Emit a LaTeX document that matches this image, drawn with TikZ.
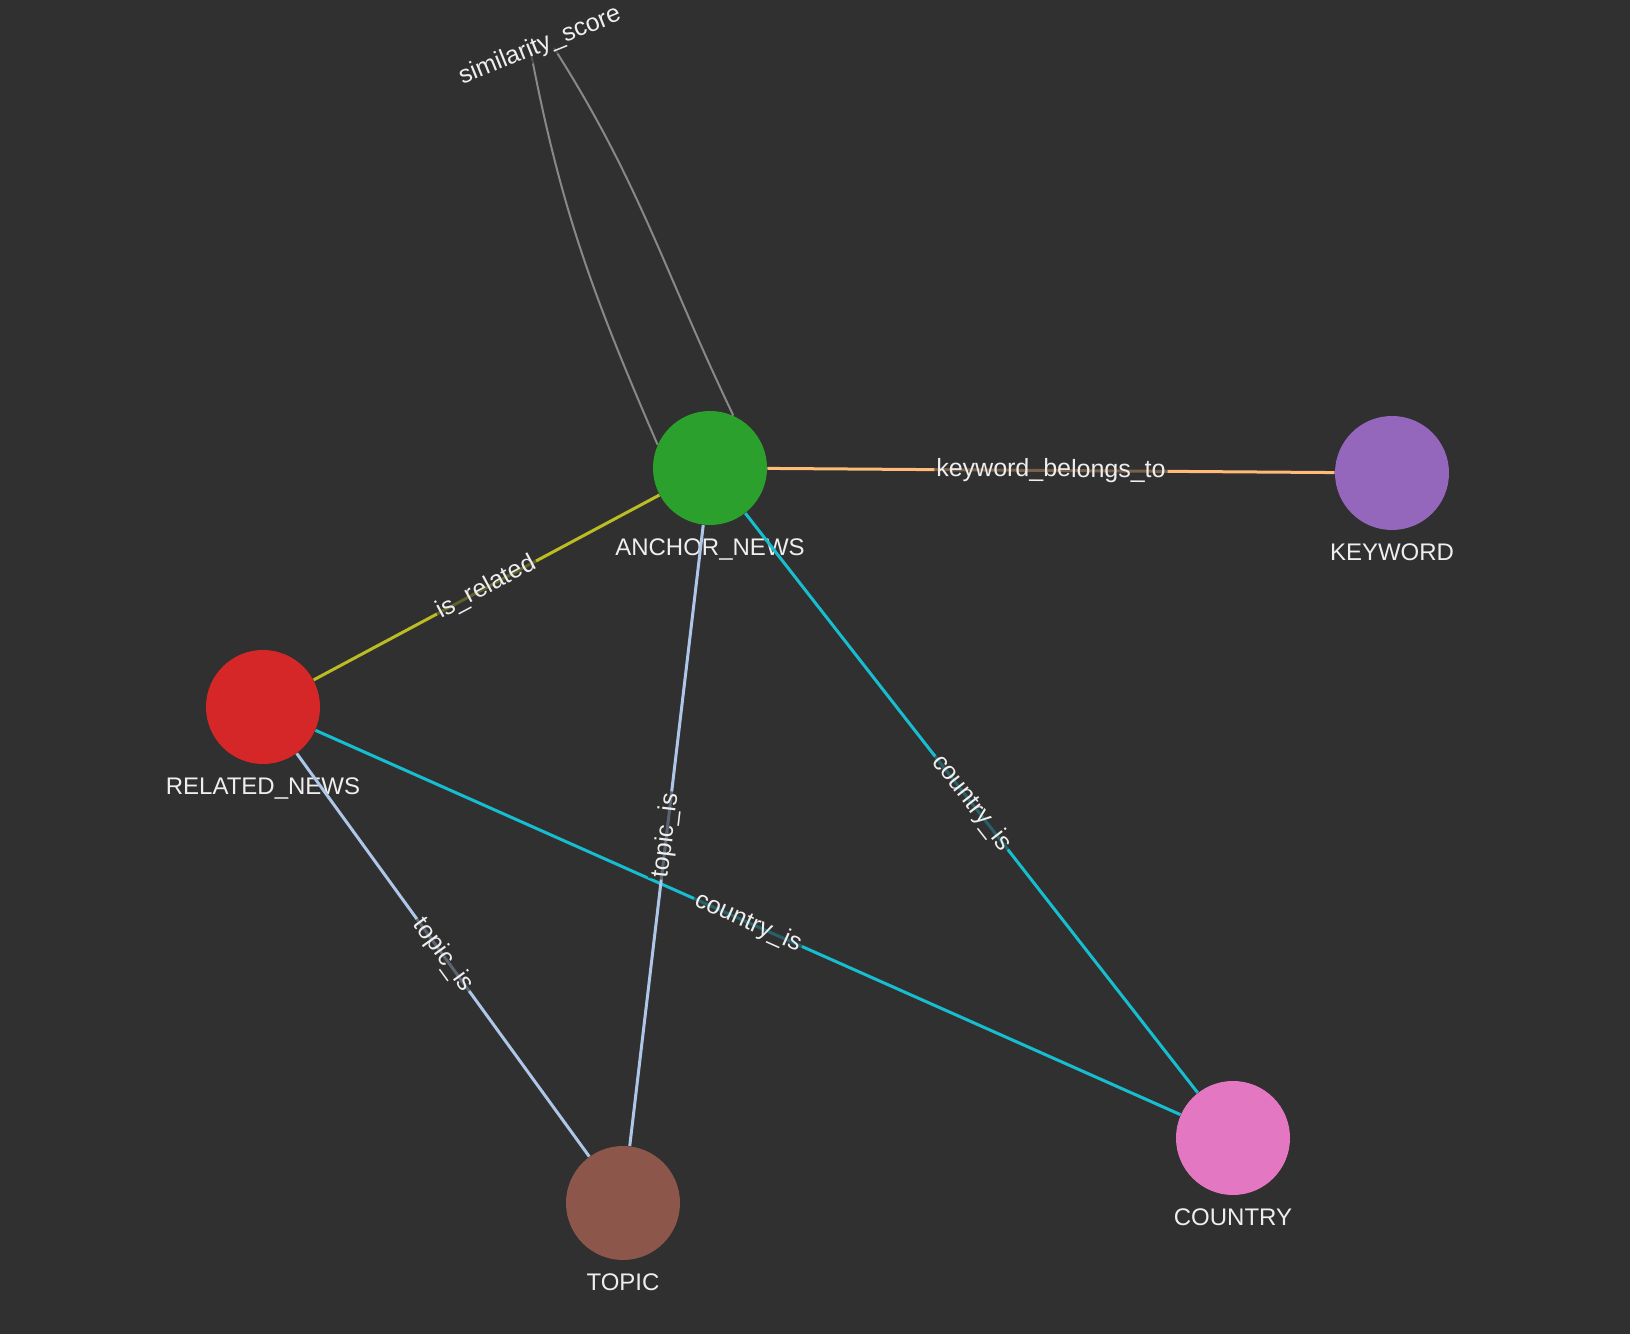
\documentclass[tikz,border=0pt]{standalone}
\usepackage{fontspec}
\setmainfont{Liberation Sans}
\usetikzlibrary{backgrounds}

\definecolor{canvas}{HTML}{303030}
\definecolor{nametext}{HTML}{EEEEEE}
\definecolor{anchorfill}{HTML}{2CA02C}
\definecolor{keywordfill}{HTML}{9467BD}
\definecolor{relatedfill}{HTML}{D62728}
\definecolor{topicfill}{HTML}{8C564B}
\definecolor{countryfill}{HTML}{E377C2}
\definecolor{keywordline}{HTML}{FFBB78}
\definecolor{relatedline}{HTML}{BCBD22}
\definecolor{topicline}{HTML}{AEC7E8}
\definecolor{countryline}{HTML}{17BECF}
\definecolor{scoreline}{HTML}{888888}

\begin{document}
\begin{tikzpicture}
  [
    x = 0.5pt, y = 0.5pt,
    show background rectangle,
    inner frame sep = 0pt,
    background rectangle/.style = {fill=canvas},
    entity/.style = {circle,minimum size=57pt,inner sep=0pt},
    every label/.style = {text=nametext,font=\fontsize{12}{14}\selectfont,inner sep=0pt},
    label distance = 6.5pt,
    relation/.style = {line width=1.5pt},
    score line/.style = {line width=1pt,draw=scoreline},
    relation name/.style = {sloped,text=nametext,font=\fontsize{12.5}{15}\selectfont,
                            fill=canvas,fill opacity=0.65,text opacity=1,inner sep=1pt},
  ]
  \useasboundingbox (0,0) rectangle (1630,1334);

  \node[entity,fill=anchorfill,label=below:ANCHOR\_NEWS]   (anchor)  at (710,866)  {};
  \node[entity,fill=keywordfill,label=below:KEYWORD]       (keyword) at (1392,861) {};
  \node[entity,fill=relatedfill,label=below:RELATED\_NEWS] (related) at (263,627)  {};
  \node[entity,fill=topicfill,label=below:TOPIC]           (topic)   at (623,131)  {};
  \node[entity,fill=countryfill,label=below:COUNTRY]       (country) at (1233,196) {};

  \draw [relation, draw=keywordline] (anchor)  -- node[relation name] {keyword\_belongs\_to} (keyword);
  \draw [relation, draw=relatedline] (related) -- node[relation name] {is\_related}          (anchor);
  \draw [relation, draw=countryline] (related) -- node[relation name] {country\_is}          (country);
  \draw [relation, draw=topicline]   (related) -- node[relation name] {topic\_is}            (topic);
  \draw [relation, draw=countryline] (anchor)  -- node[relation name] {country\_is}          (country);
  \draw [relation, draw=topicline]   (anchor)  -- node[relation name] {topic\_is}            (topic);

  % self loop on the anchor news, its two ends meet under the label
  \coordinate (loop left)  at (531,1281);
  \coordinate (loop right) at (554,1286);
  \draw [score line] (anchor.156) .. controls (594,1036) and (561,1124) .. (loop left);
  \draw [score line] (loop right) .. controls (640,1151) and (664,1063) .. (anchor.66);
  \node[relation name,rotate=22] (score) at (540,1288) {similarity\_score};

\end{tikzpicture}
\end{document}
